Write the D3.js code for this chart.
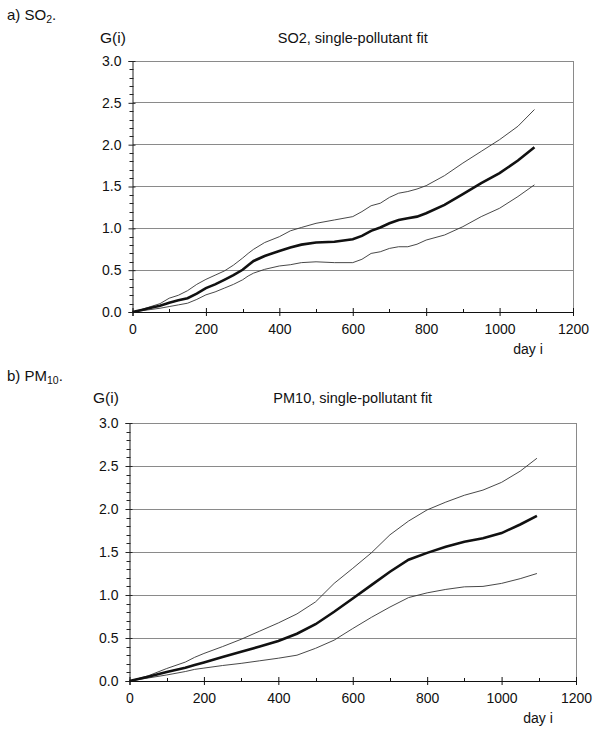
<!DOCTYPE html>
<html><head><meta charset="utf-8">
<script src="https://cdn.jsdelivr.net/npm/d3@7"></script>
<style>body{margin:0;background:#fff}svg{display:block}text{font-family:Arial,"Liberation Sans",sans-serif;fill:#111}</style>
</head><body>
<script>
// ---- data ----
const yTicks = [0, 0.5, 1.0, 1.5, 2.0, 2.5, 3.0];
const xTicks = [0, 200, 400, 600, 800, 1000, 1200];

const so2Days = [0,25,50,75,100,125,150,175,200,225,250,275,300,315,330,360,400,430,460,500,550,600,625,650,675,700,725,750,775,800,850,900,950,1000,1050,1095];
const so2Mid  = [0,0.025,0.05,0.075,0.11,0.14,0.165,0.22,0.285,0.33,0.385,0.44,0.505,0.56,0.61,0.67,0.73,0.77,0.805,0.83,0.84,0.87,0.91,0.97,1.01,1.06,1.1,1.12,1.14,1.18,1.28,1.41,1.54,1.66,1.81,1.97];
const so2Up   = [0,0.03,0.065,0.1,0.165,0.2,0.255,0.33,0.39,0.44,0.49,0.56,0.645,0.7,0.75,0.83,0.9,0.97,1.01,1.06,1.1,1.14,1.2,1.27,1.3,1.37,1.42,1.44,1.47,1.51,1.63,1.78,1.92,2.06,2.22,2.42];
const so2Low  = [0,0.015,0.03,0.045,0.065,0.085,0.105,0.15,0.205,0.24,0.285,0.33,0.385,0.43,0.465,0.51,0.55,0.565,0.59,0.6,0.59,0.59,0.63,0.7,0.72,0.76,0.78,0.78,0.81,0.86,0.92,1.02,1.14,1.24,1.38,1.52];

const pmDays = [0,50,100,150,175,200,250,300,350,400,450,500,550,600,650,700,750,800,850,900,950,1000,1050,1095];
const pmMid  = [0,0.05,0.105,0.155,0.185,0.215,0.28,0.34,0.4,0.465,0.55,0.66,0.805,0.96,1.115,1.27,1.41,1.49,1.56,1.62,1.66,1.72,1.82,1.92];
const pmUp   = [0,0.06,0.145,0.22,0.275,0.32,0.4,0.485,0.58,0.675,0.78,0.92,1.135,1.31,1.49,1.7,1.86,1.99,2.08,2.16,2.22,2.31,2.44,2.59];
const pmLow  = [0,0.035,0.07,0.11,0.135,0.15,0.18,0.205,0.235,0.265,0.3,0.38,0.475,0.61,0.74,0.86,0.97,1.025,1.065,1.095,1.1,1.135,1.19,1.25];

const svg = d3.select("body").append("svg").attr("width",600).attr("height",739);

function label(x, y, parts, size){
  const t = svg.append("text").attr("x",x).attr("y",y).attr("font-size",size);
  parts.forEach(p=>{
    if(p.sub){
      t.append("tspan").attr("font-size",size*0.7).attr("dy",3).text(p.t);
    } else {
      t.append("tspan").attr("dy",p.after?-3:0).text(p.t);
    }
  });
}
label(7,20,[{t:"a) SO"},{t:"2",sub:true},{t:".",after:true}],15);
label(7,381,[{t:"b) PM"},{t:"10",sub:true},{t:".",after:true}],15);

function chart(cfg){
  const x = d3.scaleLinear().domain([0,1200]).range([cfg.x0,cfg.x1]);
  const y = d3.scaleLinear().domain([0,3]).range([cfg.yb,cfg.yt]);
  const g = svg.append("g");
  // grid
  g.selectAll(".grid").data(yTicks.filter(v=>v>0)).enter().append("line")
    .attr("x1",cfg.x0).attr("x2",cfg.x1).attr("y1",d=>y(d)).attr("y2",d=>y(d))
    .attr("stroke","#8a8a8a").attr("stroke-width",1).attr("shape-rendering","crispEdges");
  g.append("line").attr("x1",cfg.x1).attr("x2",cfg.x1).attr("y1",cfg.yt).attr("y2",cfg.yb)
    .attr("stroke","#8a8a8a").attr("shape-rendering","crispEdges");
  // y axis
  const ya = g.append("g").attr("transform",`translate(${cfg.x0},0)`)
    .call(d3.axisLeft(y).tickValues(yTicks).tickFormat(d3.format(".1f")).tickSize(4).tickPadding(7));
  ya.select(".domain").attr("stroke","#222");
  ya.selectAll(".tick line").attr("x2",-4).attr("x1",3).attr("stroke","#222");
  ya.selectAll(".tick text").attr("font-size",14).attr("font-family","Arial, 'Liberation Sans', sans-serif").attr("fill","#111");
  const yMinor = d3.range(0,3.01,0.1).filter(v=>Math.abs(v*2-Math.round(v*2))>1e-6);
  g.selectAll(".ymin").data(yMinor).enter().append("line")
    .attr("x1",cfg.x0-3).attr("x2",cfg.x0+1).attr("y1",d=>Math.round(y(d))+0.5).attr("y2",d=>Math.round(y(d))+0.5)
    .attr("stroke","#222");
  // x axis
  const xa = g.append("g").attr("transform",`translate(0,${cfg.yb})`)
    .call(d3.axisBottom(x).tickValues(xTicks).tickFormat(d3.format("d")).tickSize(4).tickPadding(8));
  xa.select(".domain").attr("stroke","#111");
  xa.selectAll(".tick line").attr("y1",-4).attr("y2",4).attr("stroke","#111");
  xa.selectAll(".tick text").attr("font-size",14).attr("font-family","Arial, 'Liberation Sans', sans-serif").attr("fill","#111");
  g.selectAll(".xmin").data(d3.range(100,1200,200)).enter().append("line")
    .attr("x1",d=>Math.round(x(d))+0.5).attr("x2",d=>Math.round(x(d))+0.5).attr("y1",cfg.yb-3).attr("y2",cfg.yb)
    .attr("stroke","#111");
  // series
  const line = d3.line().x(d=>x(d[0])).y(d=>y(d[1]));
  const mk = arr => cfg.days.map((d,i)=>[d,arr[i]]);
  g.append("path").attr("d",line(mk(cfg.up))).attr("fill","none").attr("stroke","#333").attr("stroke-width",0.9);
  g.append("path").attr("d",line(mk(cfg.low))).attr("fill","none").attr("stroke","#333").attr("stroke-width",0.9);
  g.append("path").attr("d",line(mk(cfg.mid))).attr("fill","none").attr("stroke","#111").attr("stroke-width",2.6);
  // labels
  svg.append("text").attr("x",(cfg.x0+cfg.x1)/2).attr("y",cfg.titleY).attr("text-anchor","middle").attr("font-size",14.5).text(cfg.title);
  svg.append("text").attr("x",cfg.gx).attr("y",cfg.titleY).attr("font-size",15.5).text("G(i)");
  svg.append("text").attr("x",cfg.dayX).attr("y",cfg.yb+42).attr("text-anchor","middle").attr("font-size",14).text("day i");
}

chart({x0:132.5,x1:573,yt:61,yb:312,titleY:43,gx:100,dayX:528,title:"SO2, single-pollutant fit",days:so2Days,mid:so2Mid,up:so2Up,low:so2Low});
chart({x0:129.5,x1:576,yt:423,yb:681,titleY:403,gx:93,dayX:538,title:"PM10, single-pollutant fit",days:pmDays,mid:pmMid,up:pmUp,low:pmLow});
</script>
</body></html>
